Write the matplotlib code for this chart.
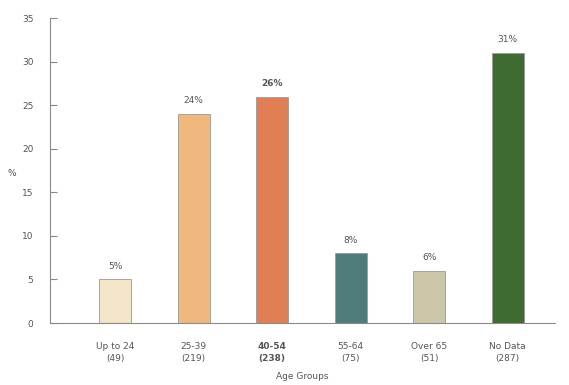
import numpy as np
import matplotlib.pyplot as plt

# age groups, respondent counts and share (%)
groups = ["Up to 24", "25-39", "40-54", "55-64", "Over 65", "No Data"]
counts = [49, 219, 238, 75, 51, 287]
shares = [5, 24, 26, 8, 6, 31]
colors = ["#F4E4C8", "#F0B87C", "#E07F53", "#4F7B7B", "#CBC7A8", "#3D6B31"]

fig = plt.figure(figsize=(5.69, 3.85), dpi=100)
ax = fig.add_axes([0.088, 0.161, 0.887, 0.792])

x = np.arange(len(groups))
ax.bar(x, shares, width=0.41, color=colors, edgecolor="#9a9a9a", linewidth=0.6)

for i, v in enumerate(shares):
    ax.text(x[i], v + 1.0, f"{v}%", ha="center", va="bottom", fontsize=6.5,
            color="#555555", fontweight="bold" if i == 2 else "normal")

ax.set_xlim(-0.83, 5.6)
ax.set_ylim(0, 35)
ax.set_yticks(range(0, 36, 5))
ax.set_xticks(x)
labels = [f"{g}\n({c})" for g, c in zip(groups, counts)]
ax.set_xticklabels(labels, fontsize=6.5, color="#555555", linespacing=1.4)
ax.get_xticklabels()[2].set_fontweight("bold")
ax.tick_params(axis="x", length=0, pad=14)
ax.tick_params(axis="y", direction="in", length=5, colors="#888888",
               labelcolor="#555555", labelsize=6.5, pad=12)

for s in ["top", "right"]:
    ax.spines[s].set_visible(False)
ax.spines["left"].set_color("#8a8a8a")
ax.spines["bottom"].set_color("#8a8a8a")

ax.set_xlabel("Age Groups", fontsize=6.5, color="#555555", labelpad=6)
ax.set_ylabel("%", fontsize=6.5, color="#555555", rotation=0, va="center")
ax.yaxis.set_label_coords(-0.075, 0.49)

fig.savefig("out.png", dpi=100)
